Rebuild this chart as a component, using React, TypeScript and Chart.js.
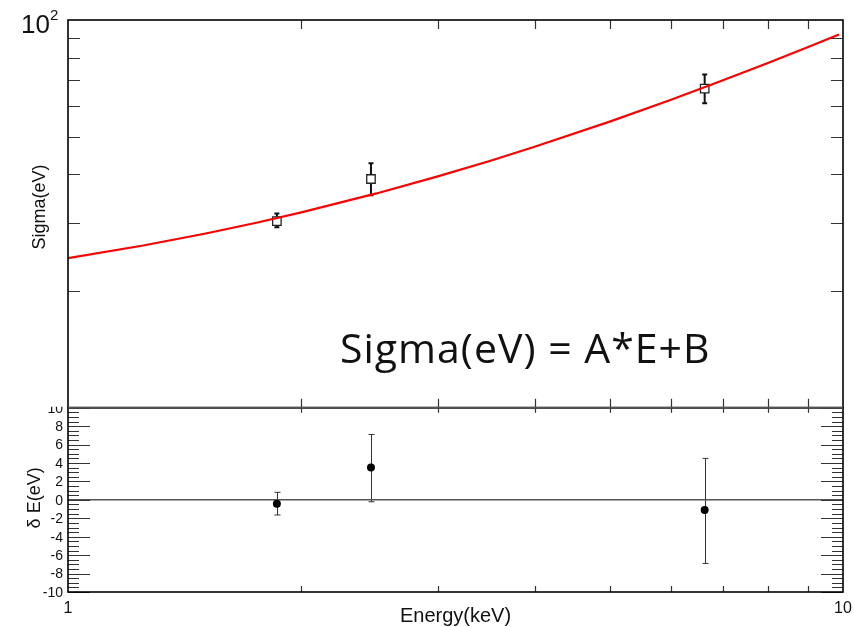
import React, { useEffect, useRef } from 'react';
import { Chart, registerables } from 'chart.js';

Chart.register(...registerables);

// ---- data ----
const energies = [1.86, 2.46, 6.63];
const sigma = [30.3, 38.9, 66.5];
const sigmaLow = [29.2, 35.3, 61.0];
const sigmaHigh = [31.7, 42.7, 72.3];

const resid = [-0.43, 3.5, -1.1];
const residLow = [-1.64, -0.21, -6.9];
const residHigh = [0.82, 7.1, 4.5];

const fitE = [1, 1.25, 1.5, 1.75, 2, 2.5, 3, 3.5, 4, 5, 6, 7, 8, 9, 9.88];
const fitSigma = [24.3, 26.2, 28.1, 30.0, 31.9, 35.7, 39.5, 43.3, 47.1, 54.7, 62.3, 69.9, 77.5, 85.1, 91.8];

const zeroLineE = [1, 10];
const zeroLineV = [0, 0];

const xMinorTicks = [2, 3, 4, 5, 6, 7, 8, 9];
const xTickLabels = ['1', '10'];
const xTickValues = [1, 10];
const sigmaMinorTicks = [20, 30, 40, 50, 60, 70, 80, 90];
const residMajorTicks = [-10, -8, -6, -4, -2, 0, 2, 4, 6, 8, 10];
const residTickLabels = ['-10', '-8', '-6', '-4', '-2', '0', '2', '4', '6', '8', '10'];
const residMinorTicks = [
  -9.5, -9, -8.5, -7.5, -7, -6.5, -5.5, -5, -4.5, -3.5, -3, -2.5, -1.5, -1, -0.5,
  0.5, 1, 1.5, 2.5, 3, 3.5, 4.5, 5, 5.5, 6.5, 7, 7.5, 8.5, 9, 9.5,
];

const FONT = '"Liberation Sans", Arial, sans-serif';

const panelPlugin = {
  id: 'panelPlugin',
  beforeDatasetsDraw(chart: any) {
    const { ctx } = chart;
    const x = chart.scales.x;
    const y = chart.scales.y;
    const y2 = chart.scales.y2;
    ctx.save();
    // top panel error bars
    ctx.strokeStyle = '#111';
    ctx.lineWidth = 2;
    energies.forEach((e, i) => {
      const px = x.getPixelForValue(e);
      const t = y.getPixelForValue(sigmaHigh[i]);
      const b = y.getPixelForValue(sigmaLow[i]);
      ctx.beginPath();
      ctx.moveTo(px, t);
      ctx.lineTo(px, b);
      ctx.moveTo(px - 2.5, t);
      ctx.lineTo(px + 2.5, t);
      ctx.moveTo(px - 2.5, b);
      ctx.lineTo(px + 2.5, b);
      ctx.stroke();
    });
    // residual error bars
    ctx.strokeStyle = '#333';
    ctx.lineWidth = 1;
    energies.forEach((e, i) => {
      const px = Math.round(x.getPixelForValue(e)) + 0.5;
      const t = y2.getPixelForValue(residHigh[i]);
      const b = y2.getPixelForValue(residLow[i]);
      ctx.beginPath();
      ctx.moveTo(px, t);
      ctx.lineTo(px, b);
      ctx.moveTo(px - 3, t);
      ctx.lineTo(px + 3, t);
      ctx.moveTo(px - 3, b);
      ctx.lineTo(px + 3, b);
      ctx.stroke();
    });
    ctx.restore();
  },
  afterDraw(chart: any) {
    const { ctx } = chart;
    const x = chart.scales.x;
    const y = chart.scales.y;
    const y2 = chart.scales.y2;
    const L = chart.chartArea.left;
    const R = chart.chartArea.right;
    const T1 = y.top;
    const B1 = y.bottom;
    const T2 = y2.top;
    const B2 = y2.bottom;
    ctx.save();

    // ticks
    ctx.strokeStyle = '#333';
    ctx.lineWidth = 1.2;
    ctx.beginPath();
    xMinorTicks.forEach((v) => {
      const px = Math.round(x.getPixelForValue(v)) + 0.5;
      ctx.moveTo(px, T1);
      ctx.lineTo(px, T1 + 9);
      ctx.moveTo(px, B1);
      ctx.lineTo(px, B1 - 9);
      ctx.moveTo(px, T2);
      ctx.lineTo(px, T2 + 5);
      ctx.moveTo(px, B2);
      ctx.lineTo(px, B2 - 6);
    });
    sigmaMinorTicks.forEach((v) => {
      const py = Math.round(y.getPixelForValue(v)) + 0.5;
      ctx.moveTo(L, py);
      ctx.lineTo(L + 12, py);
      ctx.moveTo(R, py);
      ctx.lineTo(R - 12, py);
    });
    residMajorTicks.forEach((v) => {
      const py = Math.round(y2.getPixelForValue(v)) + 0.5;
      ctx.moveTo(L, py);
      ctx.lineTo(L + 22, py);
      ctx.moveTo(R, py);
      ctx.lineTo(R - 22, py);
    });
    residMinorTicks.forEach((v) => {
      const py = Math.round(y2.getPixelForValue(v)) + 0.5;
      ctx.moveTo(L, py);
      ctx.lineTo(L + 11, py);
      ctx.moveTo(R, py);
      ctx.lineTo(R - 11, py);
    });
    ctx.stroke();

    // frames
    ctx.strokeStyle = '#000';
    ctx.lineWidth = 1.6;
    ctx.strokeRect(L, T1, R - L, B1 - T1);
    ctx.strokeRect(L, T2, R - L, B2 - T2);
    ctx.strokeStyle = '#555';
    ctx.lineWidth = 2;
    ctx.beginPath();
    ctx.moveTo(L, B1);
    ctx.lineTo(R, B1);
    ctx.stroke();

    // residual tick labels
    ctx.fillStyle = '#111';
    ctx.font = `14px ${FONT}`;
    ctx.textAlign = 'right';
    ctx.textBaseline = 'middle';
    residMajorTicks.forEach((v, i) => {
      const py = y2.getPixelForValue(v);
      if (v === 10) {
        ctx.save();
        ctx.beginPath();
        ctx.rect(0, B1 - 1, L - 1, 20);
        ctx.clip();
        ctx.fillText(residTickLabels[i], L - 5, py + 1);
        ctx.restore();
      } else {
        ctx.fillText(residTickLabels[i], L - 5, py + 1);
      }
    });

    // x tick labels
    ctx.font = `16px ${FONT}`;
    ctx.textAlign = 'center';
    ctx.textBaseline = 'alphabetic';
    xTickValues.forEach((v, i) => {
      ctx.fillText(xTickLabels[i], x.getPixelForValue(v), B2 + 21);
    });

    // x title
    ctx.font = `20px ${FONT}`;
    ctx.fillText('Energy(keV)', (L + R) / 2, B2 + 30);

    // 10^2 label
    ctx.textAlign = 'right';
    ctx.font = `26px ${FONT}`;
    ctx.fillText('10', L - 18, T1 + 13);
    ctx.textAlign = 'left';
    ctx.font = `15px ${FONT}`;
    ctx.fillText('2', L - 18, T1);

    // y titles
    ctx.font = `18px ${FONT}`;
    ctx.textAlign = 'center';
    ctx.textBaseline = 'middle';
    ctx.save();
    ctx.translate(40, 207);
    ctx.rotate(-Math.PI / 2);
    ctx.fillText('Sigma(eV)', 0, 0);
    ctx.restore();
    ctx.save();
    ctx.translate(35, (T2 + B2) / 2 - 2);
    ctx.rotate(-Math.PI / 2);
    ctx.fillText('\u03b4 E(eV)', 0, 0);
    ctx.restore();

    // formula annotation
    ctx.font = '41px "Open Sans", Lato, sans-serif';
    ctx.textAlign = 'left';
    ctx.textBaseline = 'alphabetic';
    ctx.fillStyle = '#111';
    try {
      (ctx as any).letterSpacing = '1px';
    } catch (e) {
      /* ignore */
    }
    ctx.fillText('Sigma(eV) = A*E+B', 340, 363);

    ctx.restore();
  },
};

export default function App() {
  const canvasRef = useRef<HTMLCanvasElement | null>(null);

  useEffect(() => {
    if (!canvasRef.current) return;
    const chart = new Chart(canvasRef.current, {
      type: 'line',
      data: {
        datasets: [
          {
            label: 'fit',
            data: fitE.map((e, i) => ({ x: e, y: fitSigma[i] })),
            borderColor: '#ff0000',
            borderWidth: 2.2,
            pointRadius: 0,
            tension: 0,
            yAxisID: 'y',
            order: 0,
          },
          {
            label: 'sigma',
            data: energies.map((e, i) => ({ x: e, y: sigma[i] })),
            showLine: false,
            pointStyle: 'rect',
            pointRadius: 6,
            backgroundColor: '#ffffff',
            borderColor: '#222',
            borderWidth: 1.3,
            yAxisID: 'y',
            order: 1,
          },
          {
            label: 'zero',
            data: zeroLineE.map((e, i) => ({ x: e, y: zeroLineV[i] })),
            borderColor: '#555',
            borderWidth: 1.5,
            pointRadius: 0,
            yAxisID: 'y2',
            order: 3,
          },
          {
            label: 'resid',
            data: energies.map((e, i) => ({ x: e, y: resid[i] })),
            showLine: false,
            pointStyle: 'circle',
            pointRadius: 4,
            backgroundColor: '#000',
            borderColor: '#000',
            borderWidth: 0,
            yAxisID: 'y2',
            order: 2,
          },
        ],
      },
      options: {
        animation: false,
        responsive: true,
        maintainAspectRatio: false,
        layout: { padding: { left: 68, right: 11, top: 20, bottom: 35 } },
        plugins: { legend: { display: false }, tooltip: { enabled: false } },
        scales: {
          x: { type: 'logarithmic', min: 1, max: 10, display: false },
          y: {
            type: 'logarithmic',
            min: 10,
            max: 100,
            display: false,
            position: 'left',
            stack: 'panels',
            stackWeight: 2.104,
            weight: 1,
          },
          y2: {
            type: 'linear',
            min: -10,
            max: 10,
            display: false,
            position: 'left',
            stack: 'panels',
            stackWeight: 1,
            weight: 0,
          },
        },
      },
      plugins: [panelPlugin],
    });
    return () => chart.destroy();
  }, []);

  return (
    <div style={{ position: 'absolute', left: 0, top: 0, width: 854, height: 627, background: '#fff' }}>
      <canvas ref={canvasRef} />
    </div>
  );
}
